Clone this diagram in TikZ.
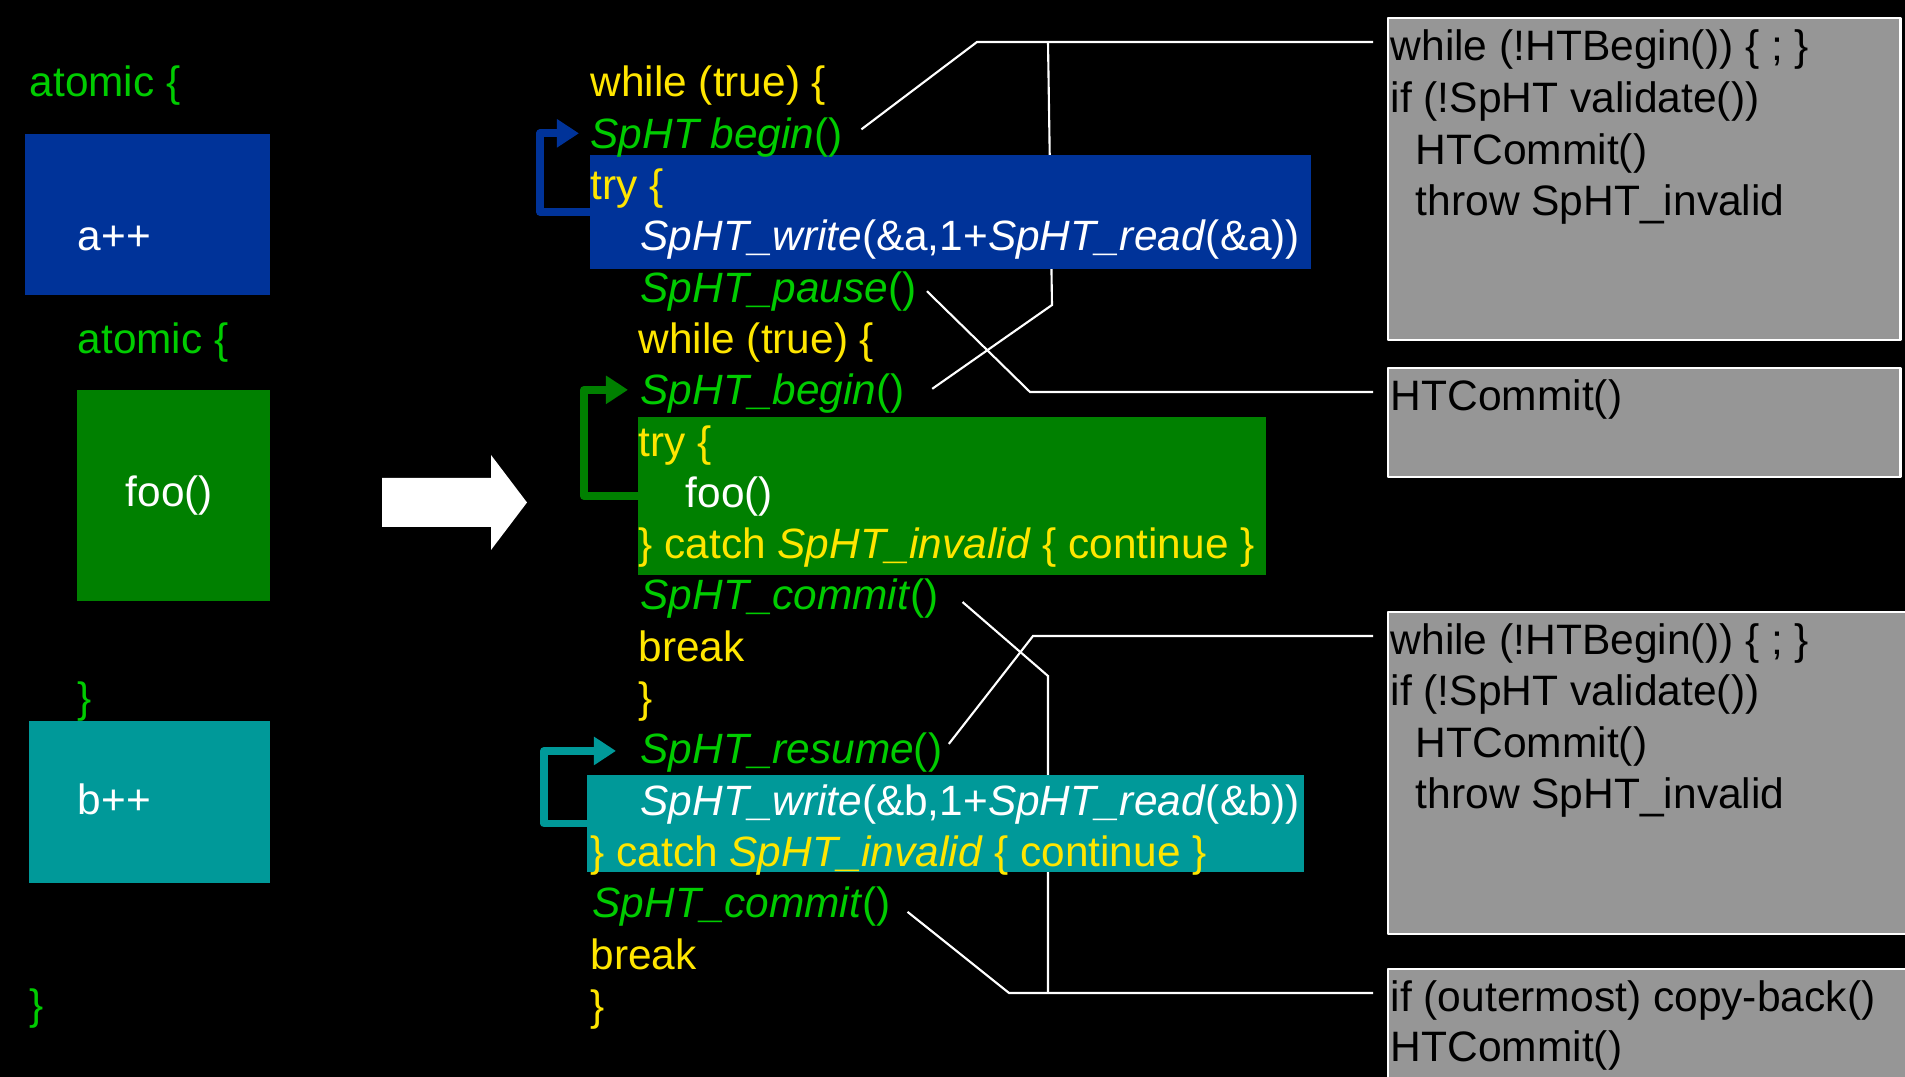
\documentclass[tikz,border=0pt]{standalone}
\usepackage{fontspec}
\setmainfont{Liberation Sans}
\usetikzlibrary{arrows.meta}
\pgfdeclarelayer{back}
\pgfsetlayers{back,main}
\definecolor{codeyel}{RGB}{255,230,0}
\definecolor{codegrn}{RGB}{0,204,0}
\definecolor{hlblue}{RGB}{0,51,153}
\definecolor{hlgreen}{RGB}{0,128,0}
\definecolor{hlteal}{RGB}{0,153,153}
\definecolor{boxgray}{RGB}{150,150,150}
\newcommand{\yl}{\color{codeyel}}
\newcommand{\gn}{\color{codegrn}}
\newcommand{\wt}{\color{white}}
\newcommand{\codefont}{\fontsize{12.05pt}{14pt}\selectfont}
\newcommand{\boxfont}{\fontsize{12.1pt}{14pt}\selectfont}
\begin{document}
\begin{tikzpicture}[x=0.01cm, y=-0.01cm, font=\codefont, line join=round, >={Triangle[length=0.22cm,width=0.27cm]},
		txt/.style={anchor=base west, inner sep=0pt},
		boxtxt/.style={txt, font=\boxfont, text=black},
		blk/.style={anchor=north west, inner sep=0pt, outer sep=0pt, fill=#1},
		graybox/.style={blk=boxgray, draw=white, line width=0.7pt},
		leader/.style={white, line width=0.6pt},
		loopline/.style={#1, line width=2.2pt, ->}]
	\useasboundingbox (0,0) rectangle (1905,1077);
	% gray boxes on the right
	\node[graybox, minimum width=5.12cm, minimum height=3.22cm] (box1) at (1388,18) {};
	\node[graybox, minimum width=5.12cm, minimum height=1.09cm] (box2) at (1388,368) {};
	\node[graybox, minimum width=5.30cm, minimum height=3.22cm] (box3) at (1388,612) {};
	\node[graybox, minimum width=5.30cm, minimum height=1.30cm] (box4) at (1388,969) {};
	\foreach \x/\y/\t in {
		1390/61/{while (!HTBegin()) \{ ; \}},1390/113/{if (!SpHT validate())},
		1415/164.5/{HTCommit()},1415/215.5/{throw SpHT\_invalid},
		1390/411/{HTCommit()},
		1390/655/{while (!HTBegin()) \{ ; \}},1390/706/{if (!SpHT validate())},
		1415/757.5/{HTCommit()},1415/808.5/{throw SpHT\_invalid},
		1390/1012/{if (outermost) copy-back()},1390/1062/{HTCommit()}}
	{
		\node[boxtxt] (g\y) at (\x,\y) {\t};
	}
	% highlighted blocks
	\node[blk=hlblue, minimum width=7.21cm, minimum height=1.13cm] (hlA) at (590,155.5) {};
	\node[blk=hlgreen, minimum width=6.28cm, minimum height=1.58cm] (hlB) at (638,417) {};
	\node[blk=hlteal, minimum width=7.17cm, minimum height=0.97cm] (hlC) at (587,775) {};
	% code lines
	\foreach \n/\x/\t in {
		1/590/{\yl while (true) \{},
		2/590/{\gn\textit{SpHT begin}()},
		3/590/{\yl try \{},
		4/640/{\wt\textit{SpHT\_write}(\&a,1+\textit{SpHT\_read}(\&a))},
		5/640/{\gn\textit{SpHT\_pause}()},
		6/638/{\yl while (true) \{},
		7/640/{\gn\textit{SpHT\_begin}()},
		8/638/{\yl try \{},
		9/685/{\wt foo()},
		10/638/{\yl\} catch \textit{SpHT\_invalid} \{ continue \}},
		11/640/{\gn\textit{SpHT\_commit}()},
		12/638/{\yl break},
		13/638/{\yl\}},
		14/640/{\gn\textit{SpHT\_resume}()},
		15/640/{\wt\textit{SpHT\_write}(\&b,1+\textit{SpHT\_read}(\&b))},
		16/590/{\yl\} catch \textit{SpHT\_invalid} \{ continue \}},
		17/592/{\gn\textit{SpHT\_commit}()},
		18/590/{\yl break},
		19/590/{\yl\}}}
	{
		\node[txt] (l\n) at (\x,{97+(\n-1)*51.3}) {\t};
	}
	\draw[loopline=hlblue] (hlA.west) -- ++(-50,0) |- ([xshift=-0.11cm,yshift=0.04cm]l2.west);
	\draw[loopline=hlgreen] (hlB.west) -- ++(-54,0) |- ([xshift=-0.12cm,yshift=0.04cm]l7.west);
	\draw[loopline=hlteal] (hlC.west) -- ++(-43,0) |- ([xshift=-0.24cm,yshift=0.02cm]l14.west);
	% leaders to the boxes, behind the blocks
	\begin{pgfonlayer}{back}
		\fill[black] (0,0) rectangle (1905,1077);
		\draw[leader] ([xshift=0.18cm,yshift=0.08cm]l2.east) -- (977,42) -- ([xshift=-0.15cm,yshift=-0.24cm]box1.north west);
		\draw[leader] ([xshift=0.27cm,yshift=0.05cm]l7.east) -- (1052,305) -- (1048,42);
		\draw[leader] ([xshift=0.1cm]l5.east) -- (1030,392) -- ([xshift=-0.15cm,yshift=-0.24cm]box2.north west);
		\draw[leader] ([xshift=0.06cm,yshift=0.09cm]l14.east) -- (1033,636) -- ([xshift=-0.15cm,yshift=-0.24cm]box3.north west);
		\draw[leader] ([xshift=0.23cm,yshift=-0.03cm]l11.east) -- (1048,676) -- (1048,993);
		\draw[leader] ([xshift=0.16cm,yshift=-0.05cm]l17.east) -- (1009,993) -- ([xshift=-0.15cm,yshift=-0.24cm]box4.north west);
	\end{pgfonlayer}
	% original atomic blocks
	\node[blk=hlblue, minimum width=2.45cm, minimum height=1.61cm] (blkA) at (25,134) {};
	\node[blk=hlgreen, minimum width=1.93cm, minimum height=2.11cm] (blkB) at (77,390) {};
	\node[blk=hlteal, minimum width=2.41cm, minimum height=1.615cm] (blkC) at (29,721) {};
	\node[txt] (at1) at (29,97) {\gn atomic \{};
	\node[txt] (ainc) at (77,251) {\wt a++};
	\node[txt] (at2) at (77,353.5) {\gn atomic \{};
	\node[txt] (foo) at (125,507) {\wt foo()};
	\node[txt] (cl1) at (77,713) {\gn\}};
	\node[txt] (binc) at (77,815) {\wt b++};
	\node[txt] (cl2) at (29,1020) {\gn\}};
	\fill[white] (382,478) -- (491,478) -- (491,455) -- (527,502.5) -- (491,550) -- (491,527) -- (382,527) -- cycle;
\end{tikzpicture}
\end{document}
